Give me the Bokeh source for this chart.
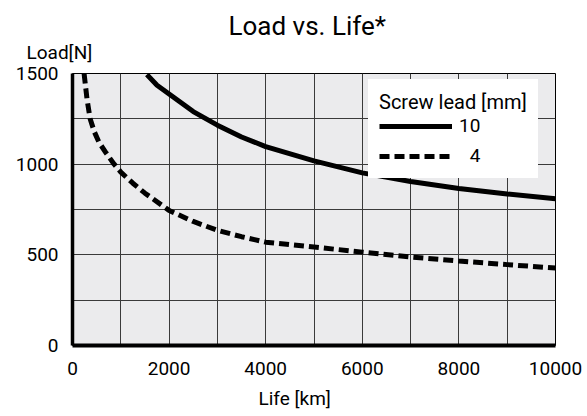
from bokeh.plotting import figure
from bokeh.models import Range1d, FixedTicker, Legend, LegendItem, Title
from bokeh.embed import file_html
from bokeh.resources import INLINE

# Data
life_10 = [1540, 1750, 2000, 2500, 3000, 3500, 4000, 5000, 6000, 7000, 8000, 9000, 10000]
load_10 = [1494, 1435, 1387, 1290, 1215, 1150, 1097, 1018, 952, 904, 866, 836, 809]

life_4 = [240, 300, 365, 450, 550, 700, 862, 1000, 1250, 1500, 2000, 2500, 3000,
          3500, 4000, 5000, 6000, 7000, 8000, 9000, 10000]
load_4 = [1500, 1360, 1250, 1180, 1120, 1060, 1000, 956, 895, 840, 745, 684, 635,
          600, 570, 543, 515, 488, 466, 446, 427]

x_ticks = [0, 2000, 4000, 6000, 8000, 10000]
y_ticks = [0, 500, 1000, 1500]
x_grid = [1000, 2000, 3000, 4000, 5000, 6000, 7000, 8000, 9000]
y_grid = [250, 500, 750, 1000, 1250]

title_text = "Load vs. Life*"
y_title = "Load[N]"
x_title = "Life [km]"
legend_title = "Screw lead [mm]"
series_names = ["10", "\u20074"]

FONT = "Roboto"

p = figure(width=587, height=416, output_backend="svg", toolbar_location=None,
           x_range=Range1d(0, 10000), y_range=Range1d(0, 1500),
           min_border_left=72, min_border_right=32, min_border_top=73,
           min_border_bottom=71)
p.background_fill_color = "#ebebed"
p.border_fill_color = "white"
p.outline_line_color = "black"
p.outline_line_width = 1

p.xaxis.ticker = FixedTicker(ticks=x_ticks)
p.yaxis.ticker = FixedTicker(ticks=y_ticks)
p.xgrid.ticker = FixedTicker(ticks=x_grid)
p.ygrid.ticker = FixedTicker(ticks=y_grid)
for g in (p.xgrid, p.ygrid):
    g.grid_line_color = "#3a3a3a"
    g.grid_line_width = 1

for ax in (p.xaxis, p.yaxis):
    ax.major_tick_in = 0
    ax.major_tick_out = 0
    ax.minor_tick_in = 0
    ax.minor_tick_out = 0
    ax.axis_line_color = "black"
    ax.major_label_text_font = FONT
    ax.major_label_text_font_size = "19px"
    ax.major_label_text_color = "black"
p.xaxis.axis_line_width = 4
p.yaxis.axis_line_width = 3.5
p.xaxis.major_label_standoff = 16
p.yaxis.major_label_standoff = 14

r10 = p.line(life_10, load_10, line_color="black", line_width=5)
r4 = p.line(life_4, load_4, line_color="black", line_width=5, line_dash="10 5")

legend = Legend(items=[LegendItem(label=series_names[0], renderers=[r10]),
                       LegendItem(label=series_names[1], renderers=[r4])],
                location=(296, 167), title=legend_title)
legend.title_text_font = FONT
legend.title_text_font_size = "20px"
legend.title_text_font_style = "normal"
legend.title_text_color = "black"
legend.label_text_font = FONT
legend.label_text_font_size = "19px"
legend.label_text_color = "black"
legend.glyph_width = 73
legend.glyph_height = 22
legend.label_height = 22
legend.label_standoff = 7
legend.spacing = 7
legend.padding = 10
legend.margin = 0
legend.title_standoff = 0
legend.border_line_color = "white"
legend.border_line_width = 1
legend.background_fill_color = "white"
legend.background_fill_alpha = 1
p.add_layout(legend)

# y-axis caption (closest to the frame), then the chart title above it
p.add_layout(Title(text=y_title, align="left", offset=-46, standoff=20,
                   text_font=FONT, text_font_size="19px",
                   text_font_style="normal", text_color="black"), "above")
p.add_layout(Title(text=title_text, align="left", offset=156, standoff=-24,
                   text_font=FONT, text_font_size="26px",
                   text_font_style="normal", text_color="black"), "above")
p.add_layout(Title(text=x_title, align="left", offset=186, standoff=14,
                   text_font=FONT, text_font_size="19px",
                   text_font_style="normal", text_color="black"), "below")

open("out.html", "w").write(file_html(p, INLINE))
